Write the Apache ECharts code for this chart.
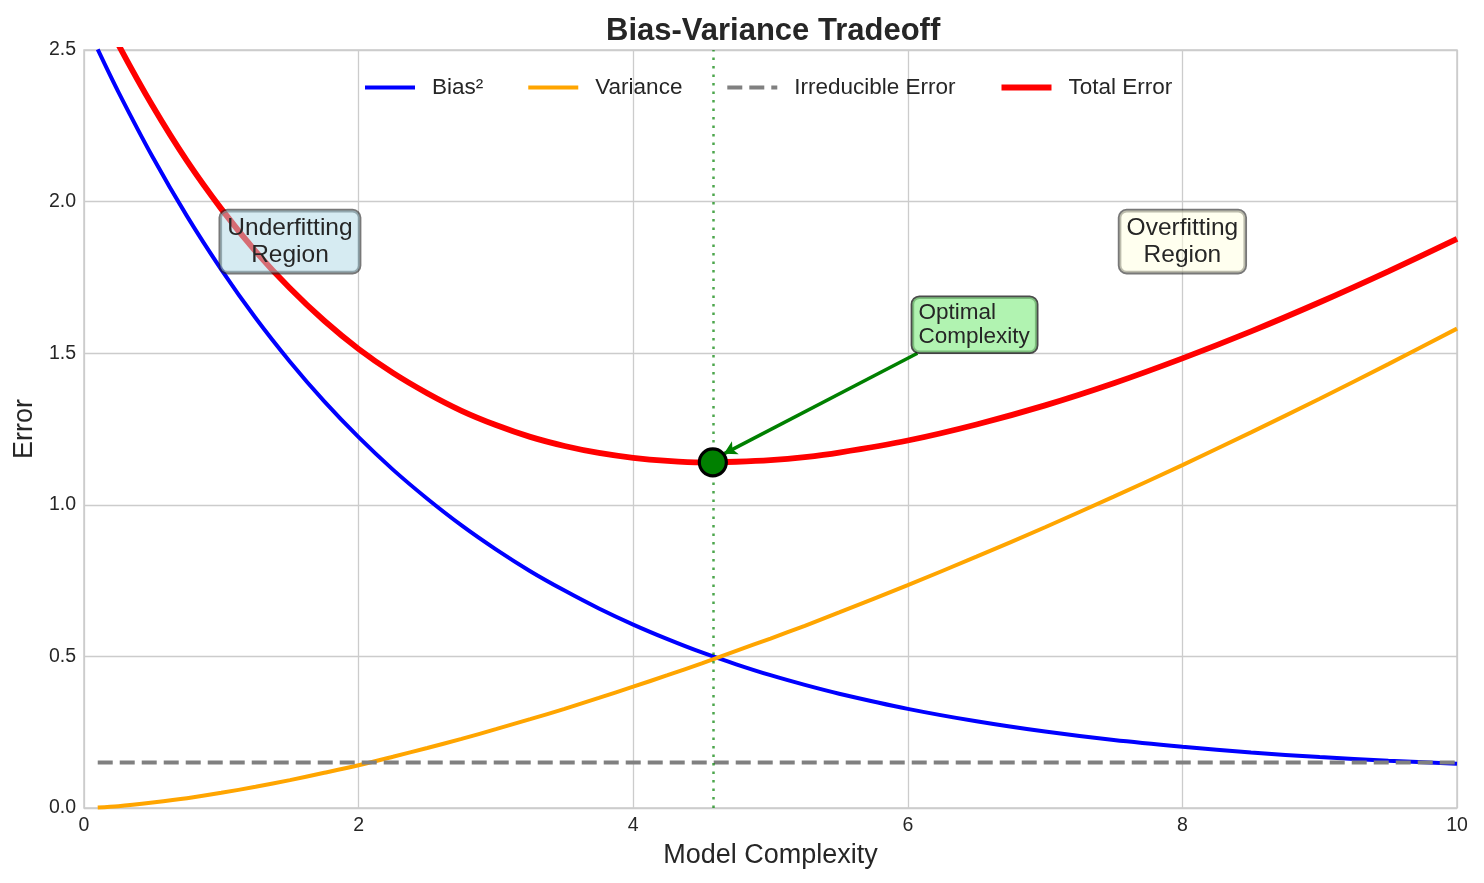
<!DOCTYPE html>
<html>
<head>
<meta charset="utf-8">
<script src="https://cdn.jsdelivr.net/npm/echarts@6/dist/echarts.min.js"></script>
<style>
  html, body { margin: 0; padding: 0; background: #fff; }
  #chart { width: 1484px; height: 883px; }
</style>
</head>
<body>
<div id="chart"></div>
<script>
// model complexity samples (x)
const complexity = [0.1, 0.25, 0.5, 0.75, 1, 1.25, 1.5, 1.75, 2, 2.25, 2.5, 2.75, 3, 3.25, 3.5, 3.75, 4, 4.25, 4.5, 4.75, 5, 5.25, 5.5, 6, 6.5, 7, 7.5, 8, 8.5, 9, 9.5, 10];
// values
const biasSq = [2.502, 2.362, 2.147, 1.952, 1.776, 1.616, 1.472, 1.341, 1.223, 1.116, 1.020, 0.932, 0.853, 0.781, 0.717, 0.658, 0.605, 0.557, 0.513, 0.474, 0.438, 0.406, 0.377, 0.327, 0.286, 0.252, 0.224, 0.202, 0.183, 0.168, 0.156, 0.146];
const variance = [0.002, 0.006, 0.018, 0.032, 0.05, 0.07, 0.092, 0.116, 0.141, 0.169, 0.198, 0.228, 0.26, 0.293, 0.327, 0.363, 0.40, 0.438, 0.477, 0.518, 0.559, 0.601, 0.645, 0.735, 0.829, 0.926, 1.027, 1.131, 1.239, 1.35, 1.464, 1.581];
const totalError = [2.654, 2.518, 2.315, 2.134, 1.976, 1.836, 1.714, 1.607, 1.514, 1.435, 1.368, 1.310, 1.263, 1.224, 1.194, 1.171, 1.155, 1.145, 1.140, 1.142, 1.147, 1.157, 1.172, 1.212, 1.265, 1.328, 1.401, 1.483, 1.572, 1.668, 1.770, 1.877];
const irreducibleX = [0.1, 10];
const irreducible = [0.15, 0.15];
// optimum
const optimalPoint = [4.58, 1.14];
const arrowFrom = [6.07, 1.50];
const arrowTo = [4.66, 1.168];
// region labels
const regionLabels = ['Underfitting\nRegion', 'Overfitting\nRegion'];
const regionPos = [[1.5, 1.868], [8.0, 1.868]];
const optimalLabel = 'Optimal\nComplexity';
const legendNames = ['Bias²', 'Variance', 'Irreducible Error', 'Total Error'];
const legendWidths = [4, 4, 3.8, 5.8];

const xTicks = [0, 2, 4, 6, 8, 10];

const zip = (xs, ys) => xs.map((x, i) => [x, ys[i]]);
const font = 'Liberation Sans, Arial, sans-serif';
const textColor = '#262626';

const chart = echarts.init(document.getElementById('chart'));
const option = {
  animation: false,
  textStyle: { fontFamily: font },
  title: {
    text: 'Bias-Variance Tradeoff',
    left: 601,
    top: 11,
    textStyle: { fontSize: 31, fontWeight: 'bold', color: textColor, fontFamily: font }
  },
  legend: {
    data: legendNames.map((n, i) => ({
      name: n,
      itemStyle: { opacity: 0 },
      lineStyle: { width: legendWidths[i] }
    })),
    top: 71,
    left: 358,
    itemWidth: 50,
    itemHeight: 14,
    itemGap: 43,
    textStyle: { fontSize: 22.5, color: textColor, padding: [0, 0, 0, 12], fontFamily: font }
  },
  grid: {
    left: 84, right: 27, top: 50, bottom: 75,
    show: true, borderColor: '#cccccc', borderWidth: 1.5
  },
  xAxis: {
    type: 'value', min: 0, max: 10, interval: 2,
    name: 'Model Complexity', nameLocation: 'middle', nameGap: 34,
    nameTextStyle: { fontSize: 27, color: textColor, fontFamily: font },
    axisLine: { show: false }, axisTick: { show: false },
    axisLabel: { fontSize: 19.5, color: textColor, margin: 8, fontFamily: font,
      formatter: v => xTicks.includes(v) ? String(v) : '' },
    splitLine: { lineStyle: { color: '#cccccc', width: 1.3 } }
  },
  yAxis: {
    type: 'value', min: 0, max: 2.5, interval: 0.5,
    name: 'Error', nameLocation: 'middle', nameGap: 44,
    nameTextStyle: { fontSize: 27, color: textColor, fontFamily: font },
    axisLine: { show: false }, axisTick: { show: false },
    axisLabel: { fontSize: 19.5, color: textColor, margin: 8, fontFamily: font,
      formatter: v => v.toFixed(1) },
    splitLine: { lineStyle: { color: '#cccccc', width: 1.3 } }
  },
  series: [
    {
      name: 'Bias²', type: 'line', smooth: 0.3, symbol: 'none',
      data: zip(complexity, biasSq),
      lineStyle: { color: '#0000ff', width: 4 }, itemStyle: { color: '#0000ff' }
    },
    {
      name: 'Variance', type: 'line', smooth: 0.3, symbol: 'none',
      data: zip(complexity, variance),
      lineStyle: { color: '#ffa500', width: 4 }, itemStyle: { color: '#ffa500' }
    },
    {
      name: 'Irreducible Error', type: 'line', symbol: 'none',
      data: zip(irreducibleX, irreducible),
      lineStyle: { color: '#808080', width: 3.8, type: [15, 7] }, itemStyle: { color: '#808080' }
    },
    {
      name: 'Total Error', type: 'line', smooth: 0.3, symbol: 'none',
      data: zip(complexity, totalError),
      lineStyle: { color: '#ff0000', width: 5.8 }, itemStyle: { color: '#ff0000' },
      markLine: {
        silent: true, symbol: ['none', 'none'], label: { show: false },
        lineStyle: { color: 'rgba(0,128,0,0.7)', width: 2.5, type: [2.5, 6] },
        data: [{ xAxis: optimalPoint[0] }]
      }
    },
    {
      // arrow to the optimum
      name: 'arrow', type: 'line', data: [], silent: true,
      markLine: {
        silent: true, symbol: ['none', 'arrow'], symbolSize: [11, 13],
        label: { show: false },
        lineStyle: { color: '#008000', width: 3.5, type: 'solid' },
        data: [[{ coord: arrowFrom }, { coord: arrowTo }]]
      }
    },
    {
      name: 'optimum', type: 'scatter', data: [optimalPoint], symbolSize: 27, z: 5,
      itemStyle: { color: '#008000', borderColor: '#000', borderWidth: 3.2, opacity: 1 }
    },
    {
      name: 'labels', type: 'scatter', symbolSize: 0, z: 6, silent: true,
      itemStyle: { opacity: 1 },
      data: [
        {
          value: regionPos[0],
          label: { show: true, position: 'inside', formatter: regionLabels[0], align: 'center',
            fontSize: 24.5, lineHeight: 27,
            backgroundColor: 'rgba(173,216,230,0.5)', borderColor: 'rgba(30,30,30,0.6)',
            borderWidth: 1.8, borderRadius: 7, padding: [5, 7, 3, 7] }
        },
        {
          value: regionPos[1],
          label: { show: true, position: 'inside', formatter: regionLabels[1], align: 'center',
            fontSize: 24.5, lineHeight: 27,
            backgroundColor: 'rgba(255,255,224,0.5)', borderColor: 'rgba(30,30,30,0.6)',
            borderWidth: 1.8, borderRadius: 7, padding: [5, 7, 3, 7] }
        },
        {
          value: arrowFrom,
          label: { show: true, position: [-5, -56], formatter: optimalLabel, align: 'left',
            fontSize: 22.5, lineHeight: 24,
            backgroundColor: 'rgba(144,238,144,0.7)', borderColor: 'rgba(30,30,30,0.8)',
            borderWidth: 1.8, borderRadius: 7, padding: [4, 7, 3, 6] }
        }
      ],
      label: { color: textColor, fontFamily: font, opacity: 1 }
    }
  ]
};
chart.setOption(option);
window.addEventListener('resize', function () {
  chart.resize();
});
</script>
</body>
</html>
